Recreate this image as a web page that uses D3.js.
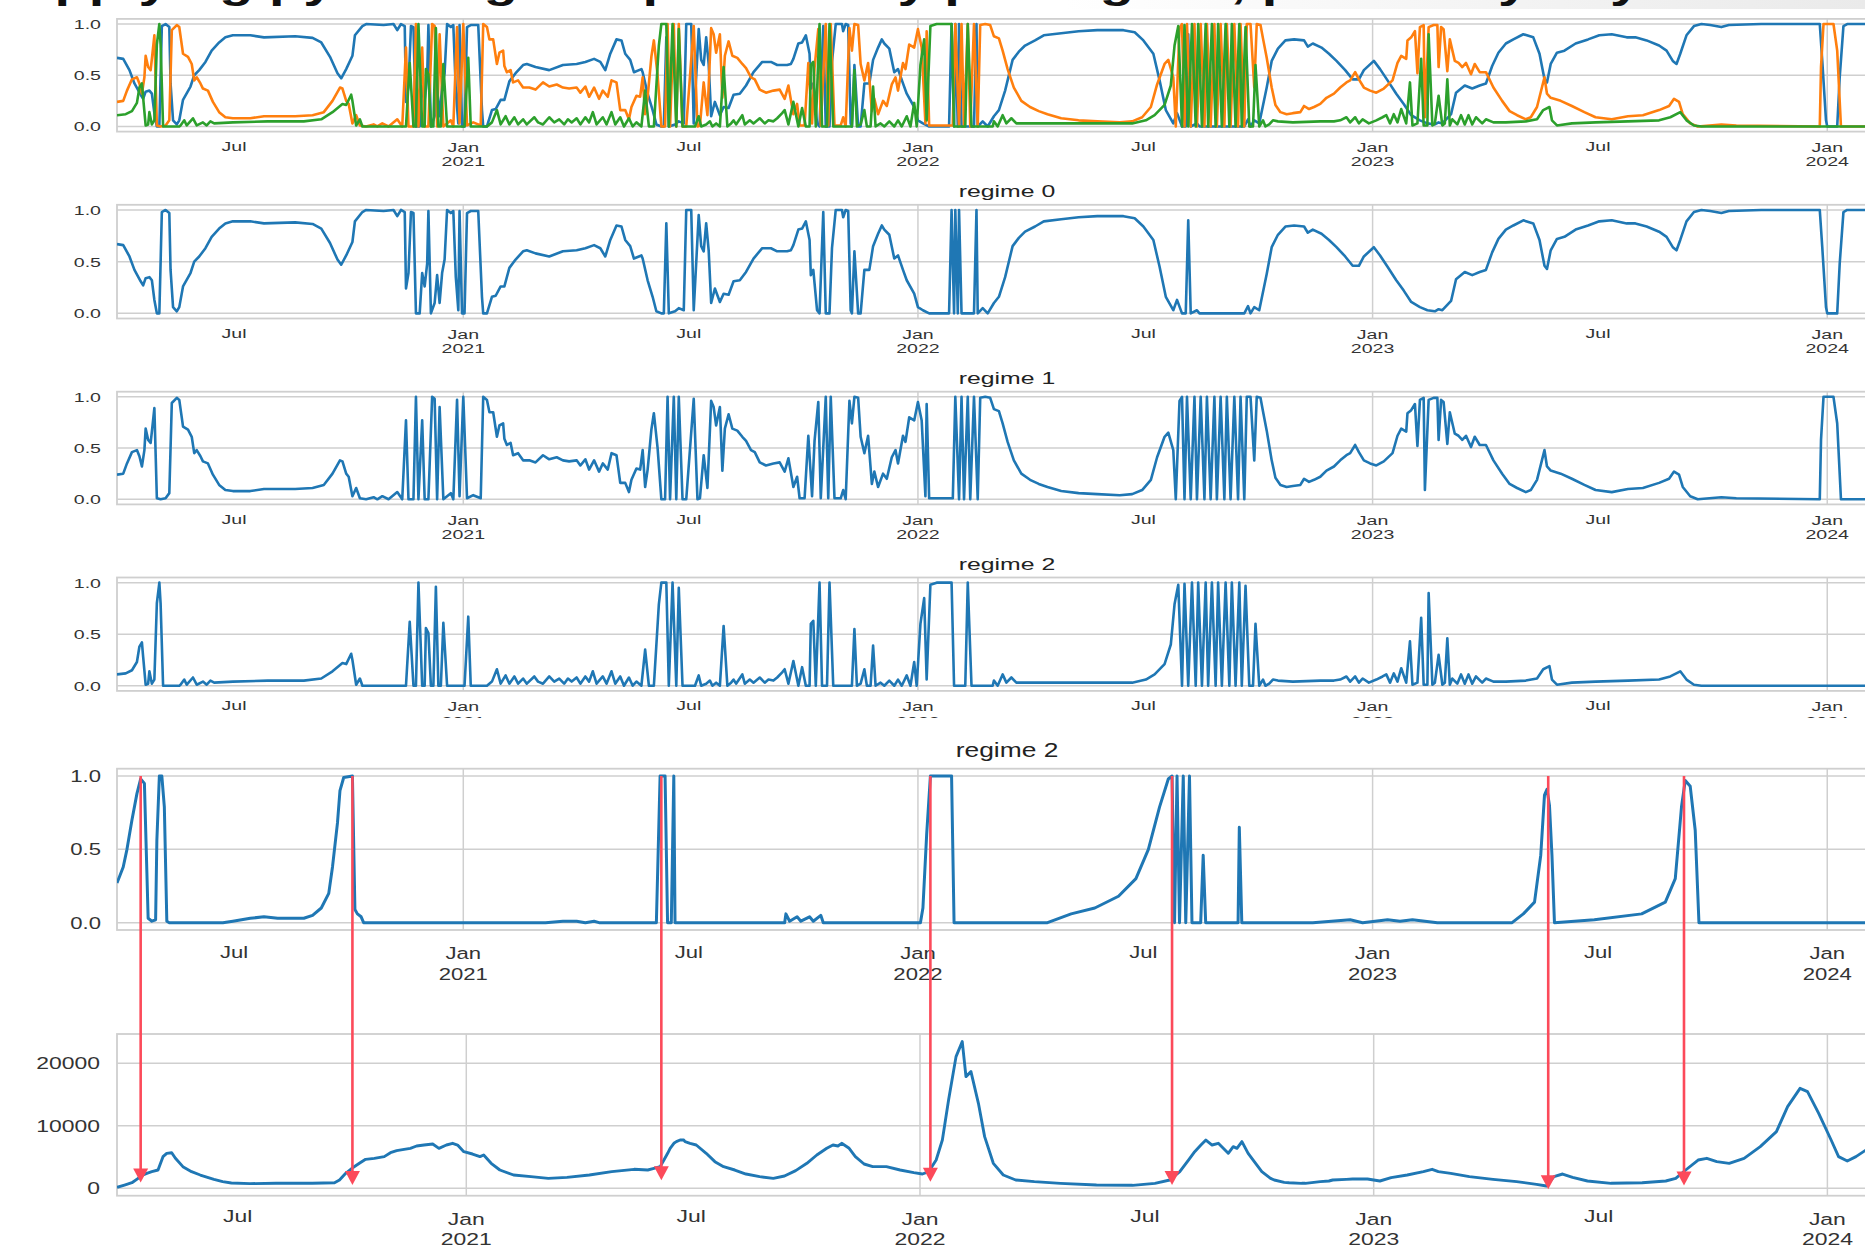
<!DOCTYPE html>
<html>
<head>
<meta charset="utf-8">
<script src="https://cdn.jsdelivr.net/npm/d3@7"></script>
<style>
  body { margin: 0; background: #fff; }
  svg { display: block; font-family: "Liberation Sans", Arial, sans-serif; }
</style>
</head>
<body>
<div id="chart"></div>
<script>
// day numbers count from 2020-03-29
const startDay = Date.UTC(2020, 2, 29);

// --- regime probabilities (blue = regime 0, orange = regime 1, green = regime 2) ---
const regime0 = [[0,.67],[5,.66],[10,.55],[14,.42],[19,.31],[21,.27],[23,.34],[26,.35],[28,.32],[30,.13],[32,0],[34,0],[36,.98],[39,1],[42,.97],[43,.42],[45,.06],[48,.02],[50,.06],[53,.26],[59,.39],[62,.5],[66,.55],[71,.63],[76,.74],[82,.82],[87,.87],[93,.89],[107,.89],[118,.87],[143,.88],[157,.865],[164,.82],[171,.68],[177,.52],[180,.47],[184,.56],[189,.69],[191,.89],[197,.98],[200,1],[214,.99],[222,1],[225,.94],[228,1],[231,.98],[232,.24],[234,.39],[236,.98],[238,.97],[240,0],[243,0],[245,.39],[247,.26],[249,.48],[250,.99],[252,0],[255,.1],[257,.37],[259,.1],[261,.39],[263,.52],[265,1],[268,.97],[270,.99],[272,.35],[274,.03],[275,.99],[277,0],[279,0],[281,.97],[284,.99],[290,.99],[293,.16],[294,0],[297,0],[301,.16],[304,.17],[308,.26],[311,.26],[315,.44],[320,.52],[326,.6],[329,.61],[336,.58],[347,.55],[358,.6],[369,.61],[376,.63],[383,.66],[388,.63],[392,.55],[396,.71],[401,.85],[405,.84],[408,.71],[412,.65],[415,.53],[421,.56],[422,.53],[426,.32],[430,.16],[433,.02],[437,0],[439,0],[441,.87],[443,0],[448,.02],[451,.05],[455,.03],[457,1],[461,1],[463,.03],[467,.95],[469,.65],[471,.6],[473,.87],[475,.61],[477,.1],[480,.24],[484,.11],[487,.19],[491,.18],[495,.31],[500,.32],[505,.4],[511,.53],[518,.63],[525,.63],[530,.6],[538,.6],[541,.61],[543,.66],[547,.81],[550,.82],[553,.89],[556,.71],[557,.37],[559,.42],[562,.03],[564,0],[567,.98],[569,0],[572,0],[574,.63],[577,1],[582,1],[583,.93],[585,1],[587,.99],[589,.03],[590,0],[592,.6],[595,0],[597,0],[600,.42],[604,.42],[607,.65],[611,.77],[614,.85],[616,.81],[620,.76],[624,.53],[627,.56],[631,.42],[634,.32],[640,.19],[643,.06],[647,.03],[652,0],[668,0],[670,1],[672,0],[673,1],[675,0],[676,1],[678,0],[688,0],[690,1],[691,0],[695,.05],[699,0],[704,.1],[708,.16],[713,.35],[719,.65],[724,.73],[729,.79],[737,.84],[744,.89],[758,.91],[772,.93],[787,.94],[808,.94],[817,.92],[824,.84],[832,.71],[837,.45],[842,.16],[848,.03],[851,.13],[855,0],[858,0],[860,.9],[862,0],[867,.03],[869,0],[905,0],[908,.07],[910,0],[913,.06],[917,.03],[923,.38],[927,.64],[932,.76],[938,.84],[945,.85],[953,.84],[956,.78],[960,.81],[967,.77],[973,.71],[979,.64],[986,.55],[992,.46],[997,.46],[1001,.55],[1009,.64],[1014,.56],[1020,.45],[1027,.32],[1033,.22],[1039,.11],[1046,.06],[1052,.03],[1058,.02],[1061,.04],[1064,.03],[1071,.12],[1075,.33],[1082,.4],[1088,.37],[1094,.4],[1099,.42],[1104,.59],[1109,.72],[1115,.81],[1121,.85],[1129,.9],[1137,.87],[1142,.71],[1146,.46],[1148,.43],[1151,.61],[1156,.72],[1162,.74],[1171,.81],[1181,.85],[1190,.89],[1200,.9],[1212,.87],[1219,.87],[1228,.84],[1238,.79],[1244,.74],[1249,.64],[1252,.61],[1255,.71],[1260,.89],[1266,.98],[1272,1],[1279,.99],[1288,.97],[1294,.99],[1320,1],[1367,1],[1369,.64],[1372,.06],[1373,0],[1381,0],[1383,.48],[1386,.98],[1389,1],[1410,1]];

const regime1 = [[0,.24],[5,.25],[8,.35],[12,.46],[16,.48],[18,.42],[20,.32],[22,.48],[23,.69],[25,.58],[27,.55],[28,.66],[30,.89],[32,.01],[35,0],[39,.01],[42,.06],[44,.94],[48,.99],[50,.97],[53,.71],[57,.68],[60,.61],[62,.45],[64,.48],[67,.42],[69,.37],[73,.35],[77,.24],[82,.14],[87,.09],[93,.08],[107,.08],[118,.1],[143,.1],[157,.11],[166,.14],[173,.25],[179,.38],[181,.37],[184,.25],[186,.22],[189,.03],[192,.11],[195,.01],[200,0],[206,.02],[209,0],[213,.03],[218,0],[225,.07],[229,0],[232,.77],[234,0],[238,0],[240,1],[242,0],[245,.77],[247,0],[250,0],[253,1],[255,.98],[257,0],[259,.9],[262,0],[268,.06],[270,0],[273,.97],[275,.03],[278,1],[281,.01],[286,.04],[292,.01],[294,1],[297,.97],[299,.85],[302,.85],[305,.61],[307,.72],[310,.74],[311,.59],[313,.53],[316,.55],[318,.43],[322,.45],[326,.38],[331,.38],[336,.36],[342,.43],[347,.39],[353,.41],[358,.38],[363,.37],[369,.38],[372,.33],[376,.39],[379,.29],[383,.38],[387,.27],[390,.35],[394,.29],[397,.45],[401,.43],[404,.16],[408,.16],[411,.07],[413,.19],[417,.3],[420,.29],[422,.48],[424,.12],[426,.29],[429,.68],[431,.84],[434,.5],[437,0],[440,0],[442,1],[444,0],[447,1],[449,0],[451,1],[454,0],[457,0],[463,.98],[466,0],[468,.01],[471,.43],[474,.11],[477,.96],[479,.9],[481,.72],[484,.9],[486,.28],[488,.69],[491,.83],[494,.69],[498,.67],[502,.61],[505,.57],[509,.48],[512,.46],[516,.36],[521,.33],[527,.35],[532,.36],[536,.27],[539,.4],[543,.12],[546,.22],[548,.01],[552,.01],[555,.62],[558,.03],[560,.57],[563,.95],[565,.01],[569,1],[571,.01],[573,1],[576,.01],[581,.01],[583,.09],[585,0],[588,.96],[590,.74],[592,1],[595,.99],[597,.61],[600,.45],[603,.62],[606,.15],[608,.27],[611,.12],[615,.25],[618,.2],[622,.41],[625,.48],[627,.35],[631,.62],[633,.56],[636,.8],[640,.77],[643,.95],[646,.77],[649,.03],[650,.93],[652,.01],[671,.01],[673,1],[676,0],[678,1],[680,0],[683,1],[685,0],[688,1],[691,0],[693,.99],[697,1],[701,.99],[704,.88],[708,.86],[711,.74],[715,.56],[720,.38],[726,.25],[733,.19],[740,.15],[747,.12],[758,.08],[772,.06],[787,.05],[805,.04],[815,.05],[823,.09],[830,.19],[835,.41],[841,.61],[844,.65],[848,.48],[850,0],[853,.96],[855,1],[857,0],[859,1],[862,0],[865,1],[867,0],[870,1],[873,0],[875,1],[878,0],[881,1],[883,0],[886,1],[889,0],[891,1],[894,0],[897,1],[900,0],[902,1],[905,0],[907,1],[910,1],[913,.38],[915,1],[918,.99],[920,.86],[923,.67],[927,.38],[930,.21],[934,.14],[939,.12],[944,.13],[950,.14],[953,.2],[957,.17],[961,.19],[966,.22],[971,.28],[977,.32],[982,.38],[987,.43],[990,.45],[994,.53],[997,.46],[1001,.38],[1006,.35],[1011,.33],[1017,.37],[1024,.45],[1028,.62],[1031,.69],[1035,.66],[1036,.84],[1039,.87],[1042,.93],[1044,.52],[1046,.97],[1049,.99],[1050,.09],[1053,.97],[1057,.99],[1060,.99],[1061,.58],[1063,.97],[1065,.95],[1068,.54],[1070,.85],[1074,.64],[1077,.62],[1080,.58],[1083,.62],[1087,.51],[1090,.61],[1094,.53],[1099,.53],[1105,.38],[1112,.25],[1118,.15],[1124,.11],[1131,.07],[1135,.09],[1140,.19],[1146,.48],[1148,.32],[1151,.28],[1159,.25],[1168,.2],[1178,.14],[1187,.09],[1200,.07],[1213,.1],[1225,.11],[1238,.16],[1246,.2],[1250,.27],[1254,.24],[1257,.12],[1263,.03],[1269,0],[1288,.02],[1300,.01],[1367,0],[1368,.58],[1370,1],[1378,1],[1381,.74],[1384,0],[1410,0]];

const regime2 = [[0,.11],[7,.12],[12,.15],[16,.23],[18,.38],[20,.42],[21,.28],[23,.01],[25,.02],[26,.14],[28,.02],[30,.06],[32,.8],[34,1],[35,.8],[37,0],[50,0],[51,.01],[54,.06],[56,.01],[61,.08],[64,.01],[69,.04],[72,.01],[75,.05],[78,.03],[93,.04],[121,.05],[150,.05],[164,.07],[173,.14],[181,.22],[184,.21],[188,.31],[189,.25],[192,.01],[195,.07],[197,0],[232,0],[235,.62],[238,0],[240,0],[242,1],[245,0],[247,0],[248,.56],[250,.51],[252,0],[254,0],[256,.96],[258,0],[260,0],[262,.61],[265,0],[279,0],[282,.67],[284,0],[297,0],[301,.04],[305,.16],[308,.02],[312,.1],[315,.02],[319,.09],[322,.02],[326,.07],[329,.02],[335,.09],[338,.04],[342,.02],[347,.09],[351,.04],[355,.07],[359,.02],[362,.07],[365,.04],[369,.08],[372,.02],[376,.09],[379,.04],[382,.14],[385,.02],[390,.09],[393,.02],[397,.14],[400,.02],[404,.09],[407,0],[411,.08],[414,0],[417,.04],[421,0],[424,.35],[427,0],[431,0],[435,.79],[437,1],[441,1],[443,0],[446,1],[449,0],[451,.95],[454,0],[464,0],[467,.1],[469,0],[473,.02],[476,.05],[478,0],[481,.03],[484,0],[487,.58],[490,0],[493,.03],[495,.06],[497,.02],[502,.11],[504,.02],[508,.06],[511,.03],[516,.08],[520,.03],[523,.06],[527,.05],[530,.08],[534,.13],[536,.16],[539,.02],[543,.24],[547,0],[550,.18],[553,0],[556,0],[557,.6],[559,.63],[561,0],[564,1],[566,0],[570,0],[572,1],[575,0],[590,0],[592,.55],[594,0],[597,.02],[600,.16],[602,0],[605,0],[607,.39],[609,0],[613,.03],[616,0],[620,.05],[624,0],[627,.06],[630,0],[634,.1],[637,0],[640,.23],[642,0],[645,.6],[648,.85],[650,.06],[653,.98],[658,1],[670,1],[672,0],[681,0],[683,1],[686,0],[703,0],[704,.05],[707,0],[711,.11],[714,.03],[718,.08],[722,.03],[733,.03],[751,.03],[787,.03],[815,.03],[826,.06],[833,.11],[841,.21],[846,.4],[849,.79],[852,.98],[855,0],[857,.99],[860,0],[863,1],[866,0],[868,1],[871,0],[874,1],[876,0],[879,1],[882,0],[884,1],[887,0],[890,1],[893,0],[895,1],[898,0],[901,1],[903,0],[906,.97],[909,0],[912,0],[914,.6],[917,0],[920,.06],[922,0],[925,.02],[928,.06],[932,.05],[944,.04],[966,.05],[977,.05],[982,.06],[987,.09],[990,.04],[994,.09],[997,.03],[1000,.07],[1005,.03],[1011,.06],[1016,.09],[1019,.11],[1022,.03],[1025,.12],[1028,.04],[1031,.17],[1035,.03],[1038,.43],[1040,.01],[1044,.03],[1047,.66],[1049,.01],[1052,.01],[1053,.9],[1056,.01],[1058,.03],[1061,.3],[1064,.01],[1066,.03],[1068,.46],[1070,.01],[1072,.07],[1076,.02],[1079,.11],[1082,.02],[1085,.11],[1088,.02],[1091,.09],[1096,.03],[1099,.07],[1105,.04],[1115,.04],[1131,.05],[1140,.07],[1145,.16],[1150,.19],[1152,.06],[1156,.01],[1168,.03],[1187,.04],[1213,.05],[1238,.06],[1247,.09],[1255,.14],[1260,.06],[1266,.01],[1272,0],[1410,0]];

// regime 2 of the second fit (large panel)
const regime2Fit = [[0,.27],[5,.38],[8,.5],[12,.7],[16,.88],[19,.98],[22,.95],[24,.34],[25,.03],[28,.01],[31,.02],[32,.56],[34,1],[36,1],[38,.79],[40,.01],[42,0],[85,0],[93,.01],[107,.03],[118,.04],[129,.03],[150,.03],[157,.05],[164,.1],[170,.2],[173,.38],[177,.68],[179,.9],[182,.99],[189,1],[191,.09],[193,.06],[196,.04],[198,0],[344,0],[358,.01],[369,.01],[376,0],[383,.01],[387,0],[433,0],[436,1],[440,1],[442,0],[445,0],[447,1],[448,0],[536,0],[537,.06],[540,.01],[546,.04],[549,.01],[556,.04],[559,.01],[565,.05],[567,0],[645,0],[647,.1],[650,.6],[653,1],[670,1],[672,0],[747,0],[766,.06],[785,.1],[804,.18],[818,.3],[828,.5],[837,.79],[844,.98],[847,1],[849,0],[851,1],[853,0],[856,1],[858,0],[861,1],[863,0],[870,0],[872,.46],[874,0],[900,0],[901,.65],[903,0],[960,0],[990,.02],[1000,0],[1020,.02],[1030,.01],[1040,.02],[1060,0],[1120,0],[1129,.06],[1138,.14],[1143,.46],[1146,.87],[1148,.91],[1150,.8],[1152,.46],[1154,0],[1186,.02],[1224,.06],[1243,.14],[1251,.3],[1256,.79],[1259,.97],[1263,.93],[1267,.63],[1270,0],[1410,0]];

// daily cases (7-day mean)
const dailyCases = [[-3,160],[3,530],[9,900],[14,1600],[18,2130],[21,2400],[25,2670],[30,2930],[34,5070],[37,5600],[41,5700],[44,4800],[50,3470],[57,2670],[64,2130],[75,1440],[82,1070],[89,850],[104,750],[125,800],[154,800],[172,900],[176,1330],[181,2400],[186,3200],[192,4000],[197,4640],[204,4800],[212,5070],[217,5700],[222,6030],[228,6240],[233,6400],[238,6770],[244,6930],[251,7090],[256,6400],[262,6930],[267,7200],[271,6930],[276,5870],[283,5490],[289,5070],[292,5330],[298,4000],[305,2930],[316,2130],[330,1870],[344,1600],[359,1760],[377,2130],[395,2670],[413,3040],[424,2930],[429,3200],[434,3470],[437,4530],[440,5600],[442,6400],[445,7200],[447,7470],[450,7730],[453,7730],[454,7470],[458,7200],[463,6930],[471,5600],[478,4270],[485,3470],[494,2930],[503,2290],[514,1870],[525,1600],[534,1970],[543,2830],[552,4000],[560,5330],[568,6400],[573,6930],[577,6770],[580,7200],[586,6400],[591,5070],[598,3890],[605,3470],[616,3470],[627,2930],[638,2510],[645,2290],[650,2670],[656,4530],[661,7730],[666,14130],[672,21070],[677,23470],[680,17870],[684,18670],[690,13600],[695,8270],[702,4000],[710,2130],[720,1330],[735,1070],[756,800],[785,530],[814,480],[832,800],[844,1330],[852,2670],[859,4530],[864,5870],[869,6930],[873,7730],[878,6930],[883,7200],[887,6400],[891,5600],[895,6670],[898,6400],[902,7470],[907,5600],[913,4000],[918,2670],[925,1600],[928,1330],[936,960],[940,900],[950,800],[953,800],[965,1070],[972,1170],[975,1330],[986,1440],[991,1490],[1003,1490],[1013,1170],[1022,1710],[1035,2130],[1048,2670],[1055,3040],[1060,2670],[1070,2400],[1085,1870],[1104,1440],[1123,1070],[1139,640],[1147,370],[1153,1870],[1160,2290],[1168,1760],[1180,1170],[1199,800],[1224,900],[1243,1170],[1251,1600],[1259,2930],[1269,4530],[1276,4800],[1284,4270],[1294,4000],[1306,4800],[1319,6670],[1332,9070],[1341,13070],[1351,16000],[1357,15470],[1366,12000],[1376,7730],[1382,5070],[1389,4370],[1396,5070],[1404,6130]];

// red arrows: regime-2 onset day and case level the arrow points to
const arrowDays = [19, 189, 437, 653, 847, 1149, 1258];
const arrowCaseLevels = [930, 525, 1300, 1070, 525, -145, 445];

const probTicks = [0, 0.5, 1.0];
const caseTicks = [0, 10000, 20000];
const yearTicks = ["2021-01-01", "2022-01-01", "2023-01-01", "2024-01-01"];
const midYearTicks = ["2020-07-01", "2021-07-01", "2022-07-01", "2023-07-01"];

const toDate = (d) => new Date(startDay + d * 864e5);

const W = 1865, H = 1250;
const svg = d3.select("#chart").append("svg").attr("width", W).attr("height", H);
const defs = svg.append("defs");

const xProb = d3.scaleUtc()
  .domain([new Date(Date.UTC(2020, 2, 29)), new Date(Date.UTC(2024, 1, 26))])
  .range([117, 1897]);
const xCases = d3.scaleUtc()
  .domain([new Date(Date.UTC(2020, 2, 26)), new Date(Date.UTC(2024, 1, 26))])
  .range([117, 1897]);

const colors = { r0: "#1f77b4", r1: "#ff7f0e", r2: "#2ca02c" };
const gridColor = "#cfcfcf";
const textColor = "#333";

// the source picture was stretched sideways, so its text is wide
const stretched = (x, y, sx) => `translate(${x},${y}) scale(${sx},1)`;

// top strip: cut-off notebook text and grey cell edge
const grad = defs.append("linearGradient").attr("id", "cellEdge");
grad.append("stop").attr("offset", "0%").attr("stop-color", "#fff");
grad.append("stop").attr("offset", "100%").attr("stop-color", "#eaeaea");
svg.append("rect").attr("x", 1065).attr("y", 0).attr("width", 800).attr("height", 9)
  .attr("fill", "url(#cellEdge)");
svg.append("text").attr("transform", stretched(14, -2, 1.4))
  .attr("font-size", 40).attr("font-weight", "bold").attr("fill", "#111")
  .text("Applying pyhmm gives probability per regime, plotted by day");

function drawPanel(cfg) {
  const x = cfg.x;
  const y = d3.scaleLinear().domain(cfg.domain).range([cfg.bottom, cfg.top]);
  const g = svg.append("g");
  const left = x.range()[0], right = x.range()[1];
  const clipId = "clip" + cfg.id;
  defs.append("clipPath").attr("id", clipId)
    .append("rect").attr("x", left).attr("y", cfg.top).attr("width", right - left).attr("height", cfg.bottom - cfg.top);

  g.append("rect").attr("x", left).attr("y", cfg.top)
    .attr("width", right - left).attr("height", cfg.bottom - cfg.top)
    .attr("fill", "#fff").attr("stroke", gridColor).attr("stroke-width", 1.8);

  g.selectAll(".hgrid").data(cfg.ticks).join("line")
    .attr("x1", left).attr("x2", right)
    .attr("y1", (d) => y(d)).attr("y2", (d) => y(d))
    .attr("stroke", gridColor).attr("stroke-width", 1.5);
  g.selectAll(".vgrid").data(yearTicks).join("line")
    .attr("x1", (d) => x(new Date(d))).attr("x2", (d) => x(new Date(d)))
    .attr("y1", cfg.top).attr("y2", cfg.bottom)
    .attr("stroke", gridColor).attr("stroke-width", 1.5);

  const tickText = (sel) => sel
    .attr("dy", "0.36em").attr("font-size", cfg.fs).attr("fill", textColor);

  g.selectAll(".ylab").data(cfg.ticks).join("text")
    .attr("transform", (d) => stretched(cfg.labelRight, y(d), cfg.sx))
    .attr("text-anchor", "end").call(tickText)
    .text(cfg.fmt);

  g.selectAll(".xmid").data(midYearTicks).join("text")
    .attr("transform", (d) => stretched(x(new Date(d)), cfg.bottom + cfg.jul, cfg.sx))
    .attr("text-anchor", "middle").call(tickText)
    .text("Jul");
  g.selectAll(".xjan").data(yearTicks).join("text")
    .attr("transform", (d) => stretched(x(new Date(d)), cfg.bottom + cfg.jan, cfg.sx))
    .attr("text-anchor", "middle").call(tickText)
    .text("Jan");
  g.selectAll(".xyear").data(yearTicks).join("text")
    .attr("transform", (d) => stretched(x(new Date(d)), cfg.bottom + cfg.year, cfg.sx))
    .attr("text-anchor", "middle").call(tickText)
    .text((d) => d.slice(0, 4));

  if (cfg.title) {
    svg.append("text").attr("transform", stretched(1007, cfg.titleY, cfg.titleSx))
      .attr("dy", "0.36em").attr("text-anchor", "middle")
      .attr("font-size", cfg.titleFs).attr("fill", "#222").text(cfg.title);
  }

  const line = d3.line()
    .x((d) => x(toDate(d[0])))
    .y((d) => y(d[1]));
  const lg = g.append("g").attr("clip-path", `url(#${clipId})`);
  cfg.series.forEach((s) => {
    lg.append("path").attr("d", line(s.data))
      .attr("fill", "none").attr("stroke", s.color)
      .attr("stroke-width", cfg.lw).attr("stroke-linejoin", "round");
  });
  return y;
}

const probFmt = (d) => d.toFixed(1);
const small = { x: xProb, domain: [-0.05, 1.05], ticks: probTicks, fmt: probFmt, fs: 13.5, sx: 1.45,
  labelRight: 101, jul: 14.5, jan: 15.5, year: 29.8, lw: 2.6, titleFs: 16, titleSx: 1.55 };

drawPanel({ ...small, id: "all", top: 18.9, bottom: 131.6,
  series: [{ data: regime0, color: colors.r0 }, { data: regime1, color: colors.r1 }, { data: regime2, color: colors.r2 }] });
drawPanel({ ...small, id: "r0", top: 204.8, bottom: 318.5, title: "regime 0", titleY: 191.7,
  series: [{ data: regime0, color: colors.r0 }] });
drawPanel({ ...small, id: "r1", top: 391.7, bottom: 504.4, title: "regime 1", titleY: 378.3,
  series: [{ data: regime1, color: colors.r0 }] });
drawPanel({ ...small, id: "r2", top: 577.5, bottom: 690.9, title: "regime 2", titleY: 564,
  series: [{ data: regime2, color: colors.r0 }] });

// the image below overlaps the year labels of the small regime 2 panel
svg.append("rect").attr("x", 0).attr("y", 718).attr("width", W).attr("height", 24).attr("fill", "#fff");

const yBig = drawPanel({ x: xProb, id: "big", domain: [-0.05, 1.05], ticks: probTicks, fmt: probFmt, fs: 17, sx: 1.3,
  labelRight: 101, jul: 21.5, jan: 22.5, year: 44, lw: 3, top: 768.7, bottom: 930,
  title: "regime 2", titleY: 749.5, titleFs: 20, titleSx: 1.32,
  series: [{ data: regime2Fit, color: colors.r0 }] });

const yCases = drawPanel({ x: xCases, id: "cases", domain: [-1180, 24690], ticks: caseTicks, fmt: (d) => d, fs: 17, sx: 1.35,
  labelRight: 100, jul: 20, jan: 23, year: 43, lw: 2.9, top: 1034, bottom: 1195.7,
  series: [{ data: dailyCases, color: colors.r0 }] });

// --- red arrows from regime-2 onset to the case curve ---
const arrowColor = "#fc4a5a";
const arrows = svg.append("g");
arrowDays.forEach((d, i) => {
  const ax = xProb(toDate(d));
  const y0 = yBig(1.0);
  const y1 = yCases(arrowCaseLevels[i]);
  const headH = 14, headW = 7.5;
  arrows.append("line").attr("x1", ax).attr("x2", ax).attr("y1", y0).attr("y2", y1 - headH + 1)
    .attr("stroke", arrowColor).attr("stroke-width", 2.6);
  arrows.append("path")
    .attr("d", `M${ax - headW},${y1 - headH}L${ax + headW},${y1 - headH}L${ax},${y1}Z`)
    .attr("fill", arrowColor);
});
</script>
</body>
</html>
